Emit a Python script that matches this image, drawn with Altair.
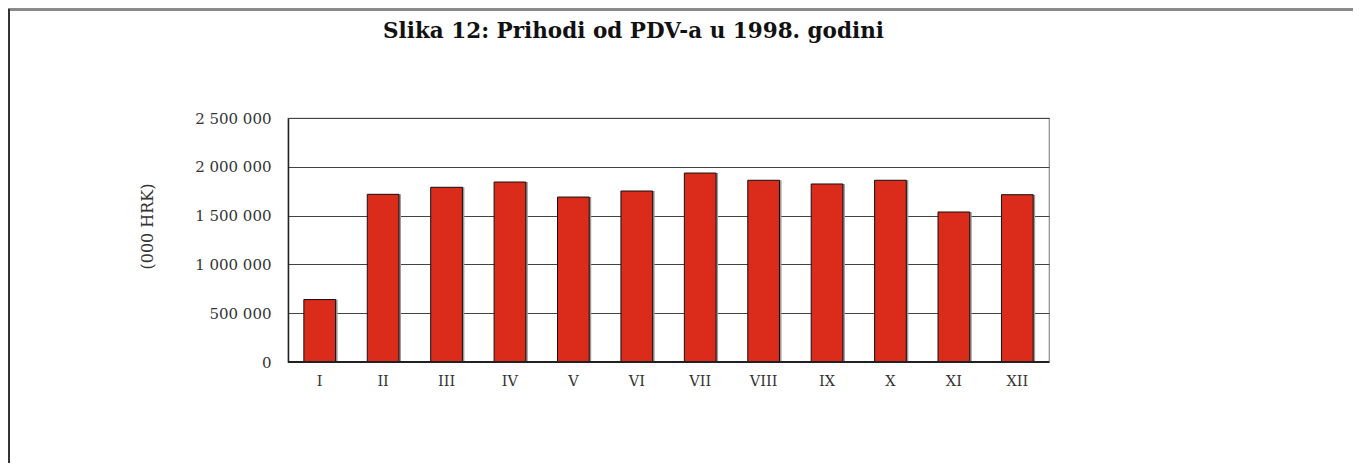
import altair as alt
import pandas as pd

months = ["I", "II", "III", "IV", "V", "VI", "VII", "VIII", "IX", "X", "XI", "XII"]
values = [640000, 1718000, 1790000, 1844000, 1690000, 1752000,
          1936000, 1862000, 1824000, 1862000, 1537000, 1714000]
y_ticks = [0, 500000, 1000000, 1500000, 2000000, 2500000]

df = pd.DataFrame({"mjesec": months, "prihod": values})

FONT = "DejaVu Serif"

x_enc = alt.X("mjesec:N", sort=months, title=None,
              scale=alt.Scale(paddingInner=0.5, paddingOuter=0.25),
              axis=alt.Axis(labelAngle=0, labelFont=FONT, labelFontSize=14.5,
                            labelColor="#333333", labelPadding=12, ticks=False,
                            domain=False, grid=False))
y_enc = alt.Y("prihod:Q", title="(000 HRK)",
              scale=alt.Scale(domain=[0, 2500000], nice=False),
              axis=alt.Axis(values=y_ticks,
                            labelExpr="replace(replace(format(datum.value, ','), ',', ' '), ',', ' ')",
                            labelFont=FONT,
                            labelFontSize=15, labelColor="#333333",
                            labelPadding=17, ticks=False, domain=True,
                            domainColor="#222222", domainWidth=1.5,
                            grid=True, gridColor="#444444", gridWidth=1.2,
                            titleFont=FONT, titleFontSize=16,
                            titleFontWeight="normal", titleColor="#333333",
                            titleX=-141, titleY=108, titleAngle=-90,
                            titleAlign="center", titleBaseline="middle"))

base = alt.Chart(df)

shadow = base.mark_bar(color="#9a9a9a", xOffset=2).encode(x=x_enc, y=y_enc)
bars = base.mark_bar(color="#DB2B1B", stroke="#111111", strokeWidth=1).encode(
    x=x_enc, y=y_enc)

baseline = base.mark_rule(color="#222222", strokeWidth=1.5).encode(
    y=alt.datum(0), x=alt.value(0), x2=alt.value(761))

frame_top = base.mark_rule(color="#8a8a8a", strokeWidth=2).encode(
    x=alt.value(-279.5), x2=alt.value(1070), y=alt.value(-108.5))
frame_left = base.mark_rule(color="#333333", strokeWidth=2).encode(
    x=alt.value(-279), y=alt.value(-109), y2=alt.value(360))

chart = alt.layer(frame_top, frame_left, shadow, bars, baseline).properties(
    width=761, height=244,
    autosize=alt.AutoSizeParams(type="none"),
    padding={"left": 280, "top": 110, "right": 304, "bottom": 101},
    title=alt.TitleParams("Slika 12: Prihodi od PDV-a u 1998. godini",
                          font=FONT, fontSize=21.5, fontWeight="bold",
                          color="#111111", anchor="middle", dx=-35,
                          offset=0, dy=51, baseline="alphabetic"),
).configure_view(stroke="#8a8a8a", strokeWidth=1.2).configure_axis(
    labelFont=FONT)

chart.save("out.html", embed_options={"renderer": "svg", "actions": False})
